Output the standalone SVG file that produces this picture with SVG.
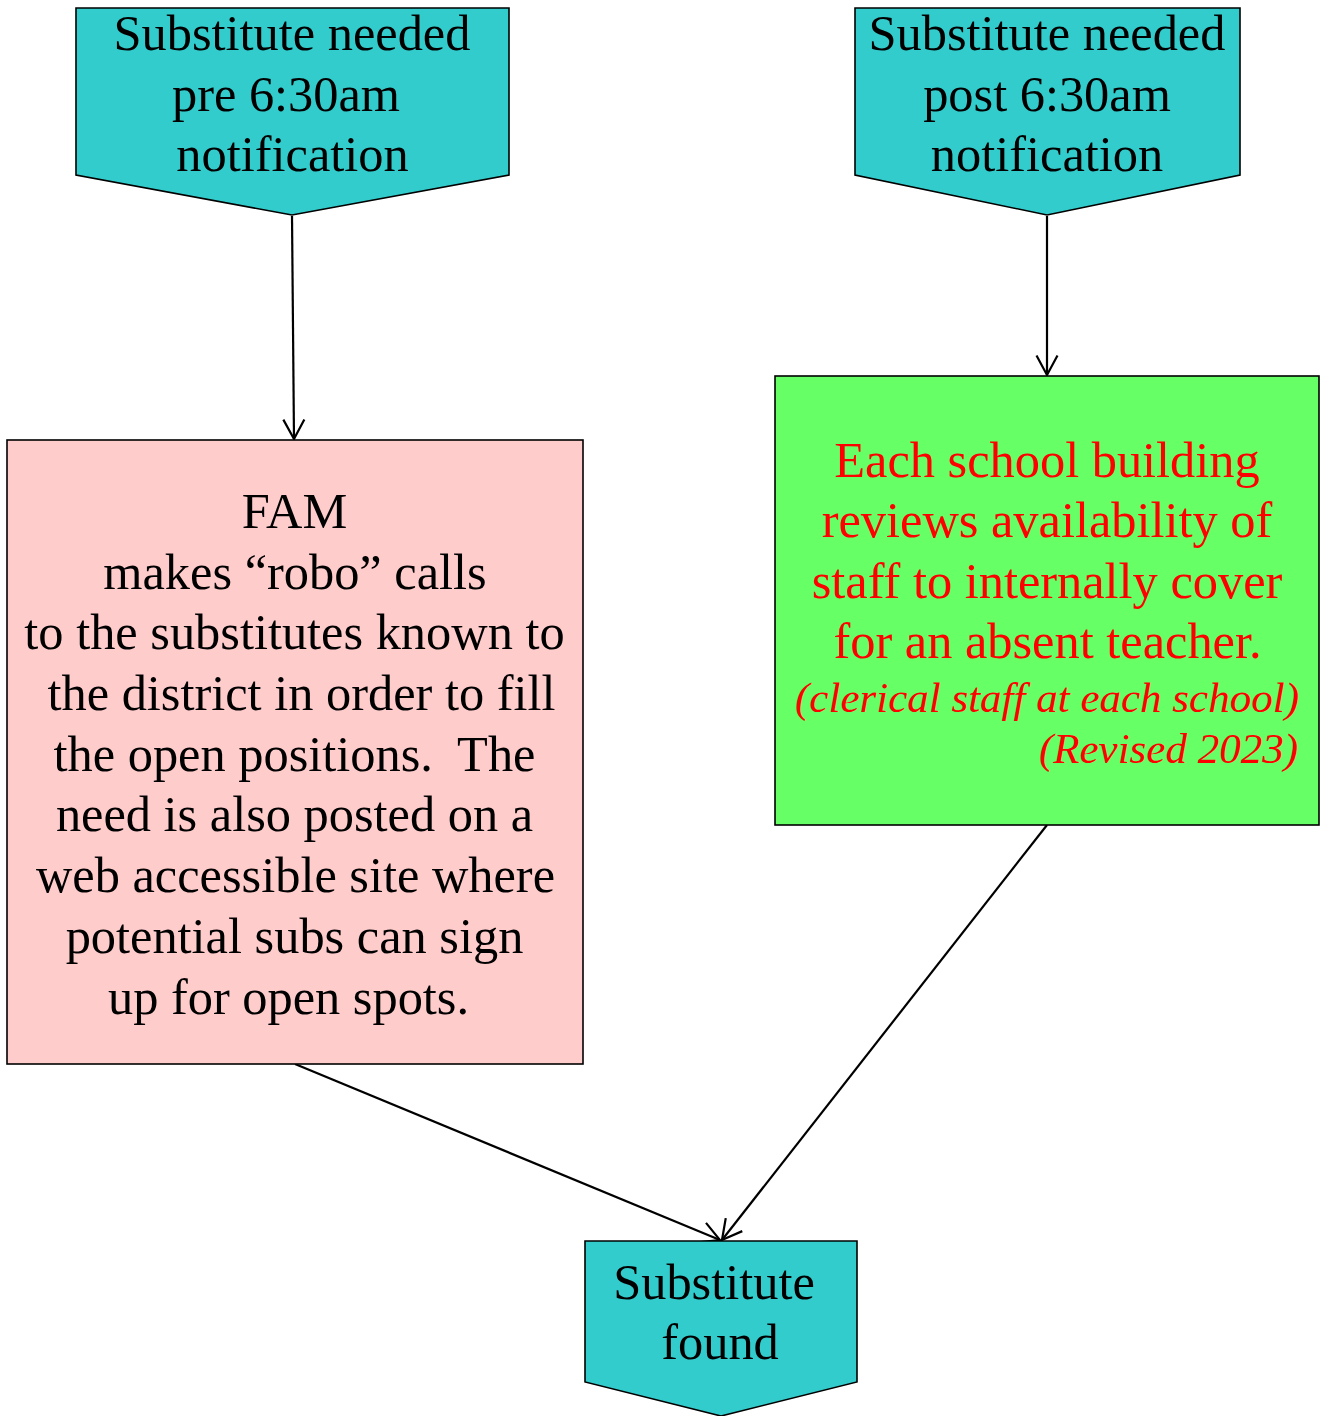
<svg xmlns="http://www.w3.org/2000/svg" width="1324" height="1416" viewBox="0 0 1324 1416">
  <style>
    .node { stroke: #000000; stroke-width: 1.6; }
    .cyan { fill: #33cccc; }
    .pink { fill: #ffcccc; }
    .green { fill: #66ff66; }
    .t { font-family: "Liberation Serif", "Times New Roman", serif; font-size: 50.4px; fill: #000000; text-anchor: middle; }
    .red { fill: #ff0000; }
    .it { font-style: italic; font-size: 43px; }
    .edge { fill: none; stroke: #000000; stroke-width: 2.2; }
  </style>
  <defs>
    <marker id="arrow" markerUnits="userSpaceOnUse" markerWidth="26" markerHeight="26" refX="21" refY="12" orient="auto">
      <path d="M1.5,1.5 L21,12 L1.5,22.5" fill="none" stroke="#000000" stroke-width="2.2"/>
    </marker>
  </defs>
  <rect width="1324" height="1416" fill="#ffffff"/>

  <g id="connectors">
    <line class="edge" x1="292" y1="216" x2="294" y2="439" marker-end="url(#arrow)"/>
    <line class="edge" x1="1047" y1="216" x2="1047" y2="375" marker-end="url(#arrow)"/>
    <line class="edge" x1="295" y1="1064" x2="720" y2="1240" marker-end="url(#arrow)"/>
    <line class="edge" x1="1047" y1="825" x2="722" y2="1240" marker-end="url(#arrow)"/>
  </g>

  <g id="node-pre">
    <polygon class="node cyan" points="76,8 509,8 509,175 292,215 76,175"/>
    <text class="t" x="292" y="50">Substitute needed</text>
    <text class="t" x="286" y="111">pre 6:30am</text>
    <text class="t" x="292.5" y="171">notification</text>
  </g>

  <g id="node-post">
    <polygon class="node cyan" points="855,8 1240,8 1240,175 1047,215 855,175"/>
    <text class="t" x="1047" y="50">Substitute needed</text>
    <text class="t" x="1047" y="111">post 6:30am</text>
    <text class="t" x="1047" y="171">notification</text>
  </g>

  <g id="node-fam">
    <rect class="node pink" x="7" y="440" width="576" height="624"/>
    <text class="t" x="294.5" y="528">FAM</text>
    <text class="t" x="295" y="589">makes “robo” calls</text>
    <text class="t" x="294.5" y="649">to the substitutes known to</text>
    <text class="t" x="301.5" y="710">the district in order to fill</text>
    <text class="t" x="294.5" y="771" xml:space="preserve">the open positions.  The</text>
    <text class="t" x="294.5" y="831">need is also posted on a</text>
    <text class="t" x="295.5" y="892">web accessible site where</text>
    <text class="t" x="294.5" y="953">potential subs can sign</text>
    <text class="t" x="288.5" y="1014">up for open spots.</text>
  </g>

  <g id="node-school">
    <rect class="node green" x="775" y="376" width="544" height="449"/>
    <text class="t red" x="1047" y="477">Each school building</text>
    <text class="t red" x="1047" y="537">reviews availability of</text>
    <text class="t red" x="1047" y="598">staff to internally cover</text>
    <text class="t red" x="1047.5" y="658">for an absent teacher.</text>
    <text class="t red it" x="1047" y="712">(clerical staff at each school)</text>
    <text class="t red it" x="1298" y="763" style="text-anchor:end">(Revised 2023)</text>
  </g>

  <g id="node-found">
    <polygon class="node cyan" points="585,1241 857,1241 857,1382 721,1416 585,1382"/>
    <text class="t" x="714" y="1299">Substitute</text>
    <text class="t" x="720" y="1359">found</text>
  </g>
</svg>
